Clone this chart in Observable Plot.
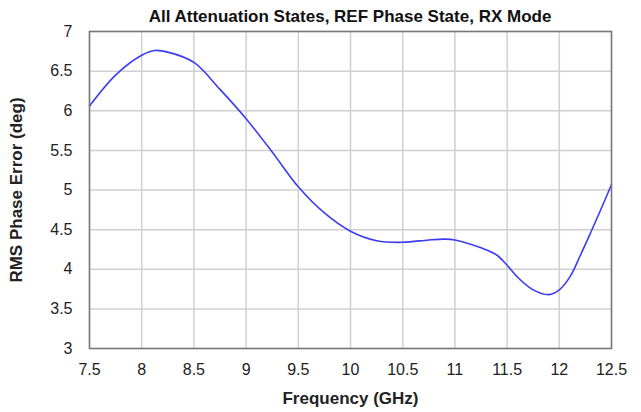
<!DOCTYPE html>
<html>
<head>
<meta charset="utf-8">
<script src="https://cdn.jsdelivr.net/npm/d3@7"></script>
<script src="https://cdn.jsdelivr.net/npm/@observablehq/plot@0.6"></script>
<style>
  body { margin: 0; background: #fff; }
  #wrap { position: relative; width: 641px; height: 412px; font-family: "Liberation Sans", Arial, sans-serif; }
  #title { position: absolute; left: 89px; width: 522px; top: 7px; line-height: 20px; text-align: center; font-weight: bold; font-size: 17px; color: #111; }
  #chart { position: absolute; left: 0; top: 0; }
</style>
</head>
<body>
<div id="wrap">
  <div id="chart"></div>
  <div id="title">All Attenuation States, REF Phase State, RX Mode</div>
</div>
<script>
const freq = [7.5, 7.75, 8.0, 8.125, 8.25, 8.5, 8.75, 9.0, 9.25, 9.5, 9.75, 10.0, 10.25, 10.5, 10.75, 10.9, 11.0, 11.25, 11.4, 11.5, 11.6, 11.75, 11.9, 12.0, 12.1, 12.2, 12.3, 12.4, 12.5];
const rmsErr = [6.06, 6.45, 6.70, 6.76, 6.74, 6.61, 6.27, 5.90, 5.48, 5.04, 4.71, 4.48, 4.36, 4.34, 4.37, 4.38, 4.37, 4.27, 4.18, 4.05, 3.90, 3.74, 3.68, 3.74, 3.90, 4.17, 4.46, 4.76, 5.07];
const xTicks = [7.5, 8, 8.5, 9, 9.5, 10, 10.5, 11, 11.5, 12, 12.5];
const yTicks = [3, 3.5, 4, 4.5, 5, 5.5, 6, 6.5, 7];

const data = freq.map((f, i) => ({f, v: rmsErr[i]}));

const chart = Plot.plot({
  width: 641,
  height: 412,
  marginLeft: 89,
  marginRight: 30,
  marginTop: 31,
  marginBottom: 64,
  style: {fontFamily: "'Liberation Sans', Arial, sans-serif", fontSize: "16px", color: "#222", background: "#fff", overflow: "visible"},
  x: {domain: [7.5, 12.5], ticks: xTicks, tickFormat: d => String(d), label: "Frequency (GHz)", labelAnchor: "center", labelArrow: "none", labelOffset: 55, tickSize: 0, tickPadding: 15},
  y: {domain: [3, 7], ticks: yTicks, tickFormat: d => String(d), label: "RMS Phase Error (deg)", labelAnchor: "center", labelArrow: "none", labelOffset: 80, tickSize: 0, tickPadding: 17},
  marks: [
    Plot.gridX(xTicks, {stroke: "#d0d0d0", strokeOpacity: 1, strokeWidth: 1.5}),
    Plot.gridY(yTicks, {stroke: "#d0d0d0", strokeOpacity: 1, strokeWidth: 1.5}),
    Plot.line(data, {x: "f", y: "v", stroke: "#3c3cf5", strokeWidth: 1.6, curve: "catmull-rom"}),
    Plot.frame({stroke: "#777", strokeWidth: 1.5})
  ]
});
d3.select(chart).selectAll("[aria-label='x-axis label'] text, [aria-label='y-axis label'] text").style("font-weight", "bold").style("font-size", "17px");
document.getElementById("chart").appendChild(chart);
</script>
</body>
</html>
